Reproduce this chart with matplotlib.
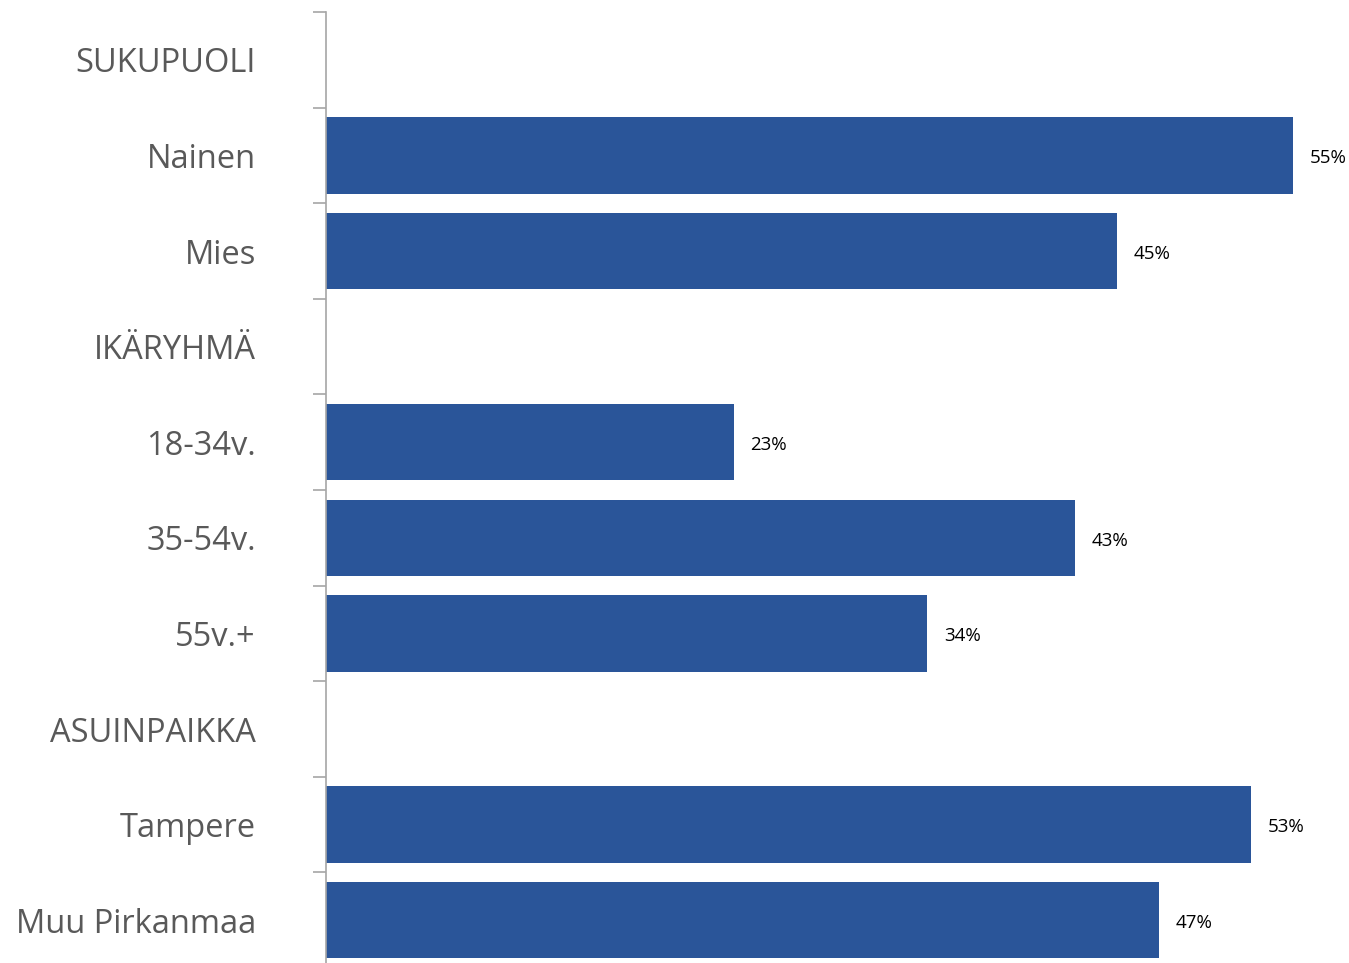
import numpy as np
import matplotlib
matplotlib.use("Agg")
import matplotlib.pyplot as plt

plt.rcParams['font.family'] = ['Open Sans', 'DejaVu Sans']

categories = ["SUKUPUOLI", "Nainen", "Mies", "IKÄRYHMÄ", "18-34v.", "35-54v.",
              "55v.+", "ASUINPAIKKA", "Tampere", "Muu Pirkanmaa"]
values = [np.nan, 55.0, 45.0, np.nan, 23.2, 42.6, 34.2, np.nan, 52.6, 47.4]

bar_color = '#2A5599'
grey = '#A6A6A6'

fig = plt.figure(figsize=(13.49, 9.63), dpi=100)
ax = fig.add_axes([326 / 1349, 1 - 968 / 963, 1 - 326 / 1349, 956 / 963])

y = np.arange(len(categories))
vals = np.array(values, dtype=float)
mask = ~np.isnan(vals)
ax.barh(y[mask], vals[mask], height=0.8, color=bar_color)

for yi, v in zip(y[mask], vals[mask]):
    ax.text(v + 0.95, yi + 0.03, f"{round(v):.0f}%", va='center', ha='left',
            fontsize=13.5, color='black')

ax.set_xlim(0, 58.19)
ax.set_ylim(len(categories) - 0.5, -0.5)

ax.set_yticks(y)
ax.set_yticklabels(categories, fontsize=23.5, color='#595959')
ax.set_yticks(np.arange(len(categories) + 1) - 0.5, minor=True)
ax.tick_params(axis='y', which='major', length=0, pad=50.5)
ax.tick_params(axis='y', which='minor', length=9.5, width=1.2, color=grey)
ax.set_xticks([])

for s in ['top', 'right', 'bottom']:
    ax.spines[s].set_visible(False)
ax.spines['left'].set_color(grey)
ax.spines['left'].set_linewidth(1.2)

fig.savefig("out.png", dpi=100)
